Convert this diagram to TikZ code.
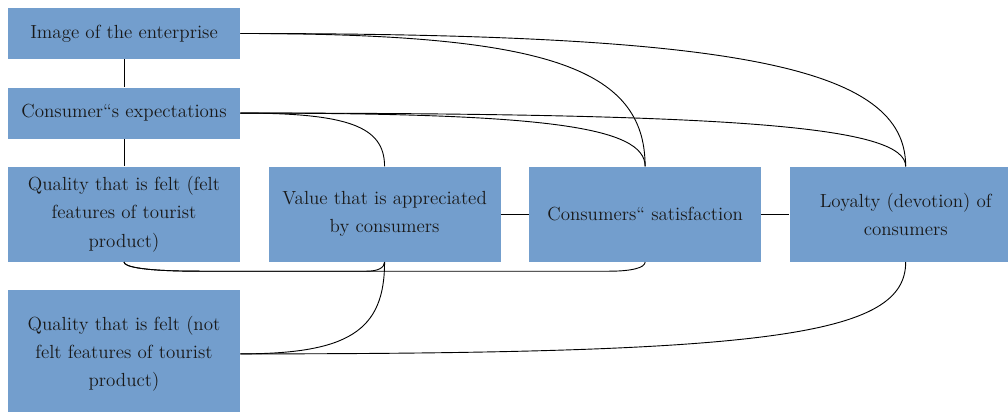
\documentclass[tikz,border=0pt]{standalone}
\usetikzlibrary{positioning}
\usetikzlibrary{calc}

\definecolor{boxblue}{RGB}{115,158,205}

\tikzset{
    factor/.style={fill=boxblue, text=black!90, align=center, minimum width=5.8cm, inner sep=2pt, font=\fontsize{13.5}{20}\selectfont},
    small factor/.style={factor, minimum height=1.275cm},
    big factor/.style={factor, minimum height=2.375cm},
    link/.style={black, line width=0.65pt},
    % horizontal start, vertical end
    hv curve/.style={to path={.. controls ($(\tikztostart)!#1!(\tikztostart -| \tikztotarget)$) and ($(\tikztotarget)!#1!(\tikztostart -| \tikztotarget)$) .. (\tikztotarget)}},
    hv curve/.default=0.75,
    % vertical start, horizontal end
    vh curve/.style={to path={.. controls ($(\tikztostart)!0.75!(\tikztostart |- \tikztotarget)$) and ($(\tikztotarget)!0.75!(\tikztostart |- \tikztotarget)$) .. (\tikztotarget)}},
    % from bottom to bottom, flat below
    under curve/.style={to path={.. controls +(0,-0.12) and +(-1.4,0) .. ($(\tikztostart)+(1.9,-0.23)$) -- ($(\tikztostart -| \tikztotarget)+(-#1,-0.23)$) .. controls +(0.6*#1,0) and +(0,-0.15) .. (\tikztotarget)}}
}

\begin{document}
\begin{tikzpicture}

    \useasboundingbox (0,0) rectangle (25.2,-10.275);
    \clip (0,0) rectangle (25.2,-10.275);

    % left column
    \node[small factor] (img) at (3.1,-0.8375) {Image of the enterprise};
    \node[small factor, below=0.7cm of img] (exp) {Consumer``s expectations};
    \node[big factor, below=0.69cm of exp] (felt) {Quality that is felt (felt\\features of tourist\\product)};
    \node[factor, minimum height=3.2cm, below=0.69cm of felt] (notfelt) {Quality that is felt (not\\felt features of tourist\\product)};

    % middle row
    \node[big factor, right=0.7cm of felt] (val) {Value that is appreciated\\by consumers};
    \node[big factor, right=0.7cm of val] (sat) {Consumers`` satisfaction};
    \node[big factor, right=0.7cm of sat] (loy) {Loyalty (devotion) of\\consumers};

    % straight links
    \draw[link] (img) -- (exp);
    \draw[link] (exp) -- (felt);
    \draw[link] (val) -- (sat);
    \draw[link] (sat) -- (loy);

    % curved links from the top
    \draw[link] (img.east) to[hv curve] (sat.north);
    \draw[link] (img.east) to[hv curve] (loy.north);
    \draw[link] (exp.east) to[hv curve] (val.north);
    \draw[link] (exp.east) to[hv curve] (sat.north);
    \draw[link] (exp.east) to[hv curve] (loy.north);

    % curved links below
    \draw[link] (felt.south) to[under curve=0.45] (val.south);
    \draw[link] (felt.south) to[under curve=0.9] (sat.south);
    \draw[link] (val.south) to[vh curve] (notfelt.east);
    \draw[link] (notfelt.east) to[hv curve=0.8] (loy.south);

\end{tikzpicture}
\end{document}
